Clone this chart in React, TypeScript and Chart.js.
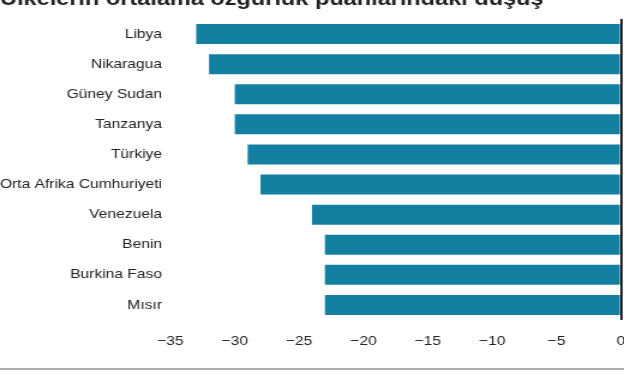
import React, { useEffect, useRef } from "react";
import { Chart, registerables } from "chart.js";

Chart.register(...registerables);

const titleText = "Ülkelerin ortalama özgürlük puanlarındaki düşüş";
const countries = [
  "Libya",
  "Nikaragua",
  "Güney Sudan",
  "Tanzanya",
  "Türkiye",
  "Orta Afrika Cumhuriyeti",
  "Venezuela",
  "Benin",
  "Burkina Faso",
  "Mısır",
];
const declines = [-33, -32, -30, -30, -29, -28, -24, -23, -23, -23];
const xMin = -35;
const xMax = 0;
const xStep = 5;

const SCALE_X = 1.2;
const CANVAS_W = 521;
const FONT = "'Liberation Sans', Arial, Helvetica, sans-serif";

const decorPlugin = {
  id: "decor",
  afterDraw(chart: any) {
    const ctx = chart.ctx;
    ctx.save();
    ctx.fillStyle = "#222222";
    ctx.font = `bold 19.6px ${FONT}`;
    ctx.textBaseline = "alphabetic";
    ctx.textAlign = "left";
    ctx.fillText(titleText, 0, 5);
    ctx.fillStyle = "#aaaaaa";
    ctx.fillRect(0, 368, chart.width, 2);
    ctx.restore();
  },
};

export default function App() {
  const ref = useRef<HTMLCanvasElement>(null);
  useEffect(() => {
    document.body.style.margin = "0";
    const chart = new Chart(ref.current!, {
      type: "bar",
      data: {
        labels: countries,
        datasets: [
          {
            data: declines,
            backgroundColor: "#1380A1",
            borderWidth: 0,
            barPercentage: 0.665,
            categoryPercentage: 1,
          },
        ],
      },
      options: {
        indexAxis: "y",
        responsive: false,
        animation: false,
        layout: { padding: { top: 19, right: 3, bottom: 0, left: 0 } },
        plugins: {
          legend: { display: false },
          title: { display: false },
          tooltip: { enabled: false },
        },
        scales: {
          x: {
            min: xMin,
            max: xMax,
            border: { display: false },
            grid: {
              drawTicks: true,
              tickLength: 14,
              tickColor: "rgba(0,0,0,0)",
              lineWidth: 1.7,
              color: (c: any) => (c.tick && c.tick.value === 0 ? "#000000" : "rgba(0,0,0,0)"),
            },
            ticks: {
              stepSize: xStep,
              padding: 0,
              color: "#222222",
              font: { family: FONT, size: 13 },
              maxRotation: 0,
              callback: (v: any) => (Number(v) < 0 ? "\u2212" + Math.abs(Number(v)) : String(v)),
            },
            afterFit: (s: any) => {
              s.height = 55;
            },
          },
          y: {
            border: { display: false },
            grid: { display: false, drawTicks: false },
            ticks: {
              padding: 7,
              color: "#222222",
              font: { family: FONT, size: 13 },
            },
            afterFit: (s: any) => {
              s.width = 142;
            },
          },
        },
      },
      plugins: [decorPlugin],
    });
    return () => chart.destroy();
  }, []);
  return (
    <div
      style={{
        position: "fixed",
        left: 0,
        top: 0,
        width: 624,
        height: 375,
        overflow: "hidden",
        background: "#ffffff",
      }}
    >
      <canvas
        ref={ref}
        width={CANVAS_W}
        height={375}
        style={{
          width: CANVAS_W + "px",
          height: "375px",
          transform: `scaleX(${SCALE_X})`,
          transformOrigin: "0 0",
          display: "block",
        }}
      />
    </div>
  );
}
